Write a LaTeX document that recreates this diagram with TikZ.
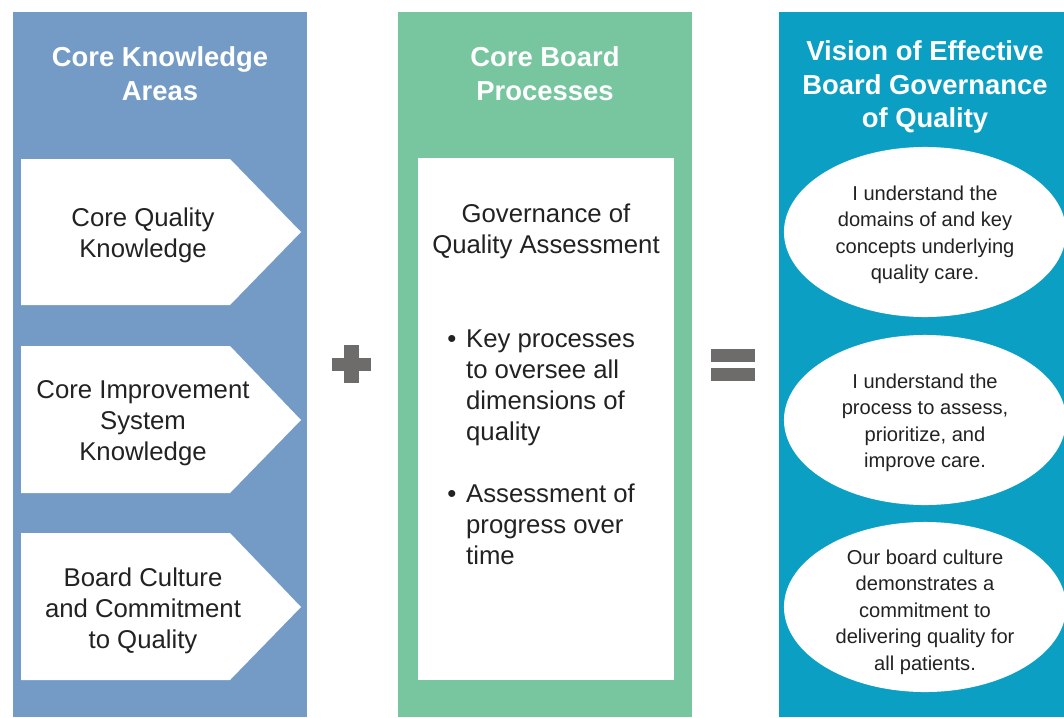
\documentclass[tikz,border=0pt]{standalone}
\usepackage{fontspec}
\setmainfont{Liberation Sans}
\usepackage{xcolor}
\usetikzlibrary{shapes.geometric}

\definecolor{knowblue}{HTML}{739BC6}
\definecolor{procgreen}{HTML}{78C6A0}
\definecolor{visionteal}{HTML}{0A9FC3}
\definecolor{signgray}{HTML}{6E6B6B}
\definecolor{textgray}{HTML}{222222}

\begin{document}
\begin{tikzpicture}[x=0.025cm, y=-0.025cm, inner sep=0pt,
	head/.style = {text=white, font=\fontsize{19.5}{24}\selectfont\bfseries, align=center},
	body/.style = {text=textgray, font=\fontsize{18.3}{22}\selectfont, align=center},
	oval/.style = {ellipse, fill=white, minimum width=7.05cm, minimum height=4.25cm},
	ovaltext/.style = {text=textgray, font=\fontsize{14.3}{18.8}\selectfont, align=center},
	pointer/.style = {fill=white},
	sign/.style = {fill=signgray}]
	\useasboundingbox (0,0) rectangle (1064,717);
	% panels
	\fill[knowblue] (13,12) rectangle (307,717);
	\fill[procgreen] (398,12) rectangle (692,717);
	\fill[visionteal] (779,12) rectangle (1070,717);
	\node[head] (knowhead) at (160,74) {Core Knowledge\\Areas};
	\node[head] (prochead) at (545,74) {Core Board\\Processes};
	\node[head] (visionhead) at (925,87) {Vision of Effective\\Board Governance\\of Quality};
	% core knowledge areas
	\fill[pointer] (21,159) -- (230,159) -- (301,232) -- (230,305) -- (21,305) -- cycle;
	\fill[pointer] (21,346) -- (230,346) -- (301,420) -- (230,493) -- (21,493) -- cycle;
	\fill[pointer] (21,533) -- (230,533) -- (301,607) -- (230,680) -- (21,680) -- cycle;
	\node[body] (quality) at (143,235) {Core Quality\\Knowledge};
	\node[body] (improve) at (143,423) {Core Improvement\\System\\Knowledge};
	\node[body] (culture) at (143,611) {Board Culture\\and Commitment\\to Quality};
	% core board processes
	\fill[white] (418,158) rectangle (674,680);
	\node[body] (assess) at (546,231) {Governance of\\Quality Assessment};
	\node[body, anchor=west] (bullets) at (447,450) {%
		\begin{tabular}{@{}l@{\hspace{7pt}}l@{}}
		\textbullet & Key processes\\
		& to oversee all\\
		& dimensions of\\
		& quality\\[22pt]
		\textbullet & Assessment of\\
		& progress over\\
		& time
		\end{tabular}};
	% plus and equals
	\fill[sign] (344,345) rectangle (359,383);
	\fill[sign] (332,358) rectangle (371,371);
	\fill[sign] (711,349) rectangle (755,362);
	\fill[sign] (711,368) rectangle (755,381);
	% vision
	\node[oval] (domains) at (925,232) {};
	\node[oval] (process) at (925,420) {};
	\node[oval] (culturevision) at (925,607) {};
	\node[ovaltext] (domainstext) at (925,235) {I understand the\\domains of and key\\concepts underlying\\quality care.};
	\node[ovaltext] (processtext) at (925,423) {I understand the\\process to assess,\\prioritize, and\\improve care.};
	\node[ovaltext] (culturetext) at (925,612) {Our board culture\\demonstrates a\\commitment to\\delivering quality for\\all patients.};
\end{tikzpicture}
\end{document}
